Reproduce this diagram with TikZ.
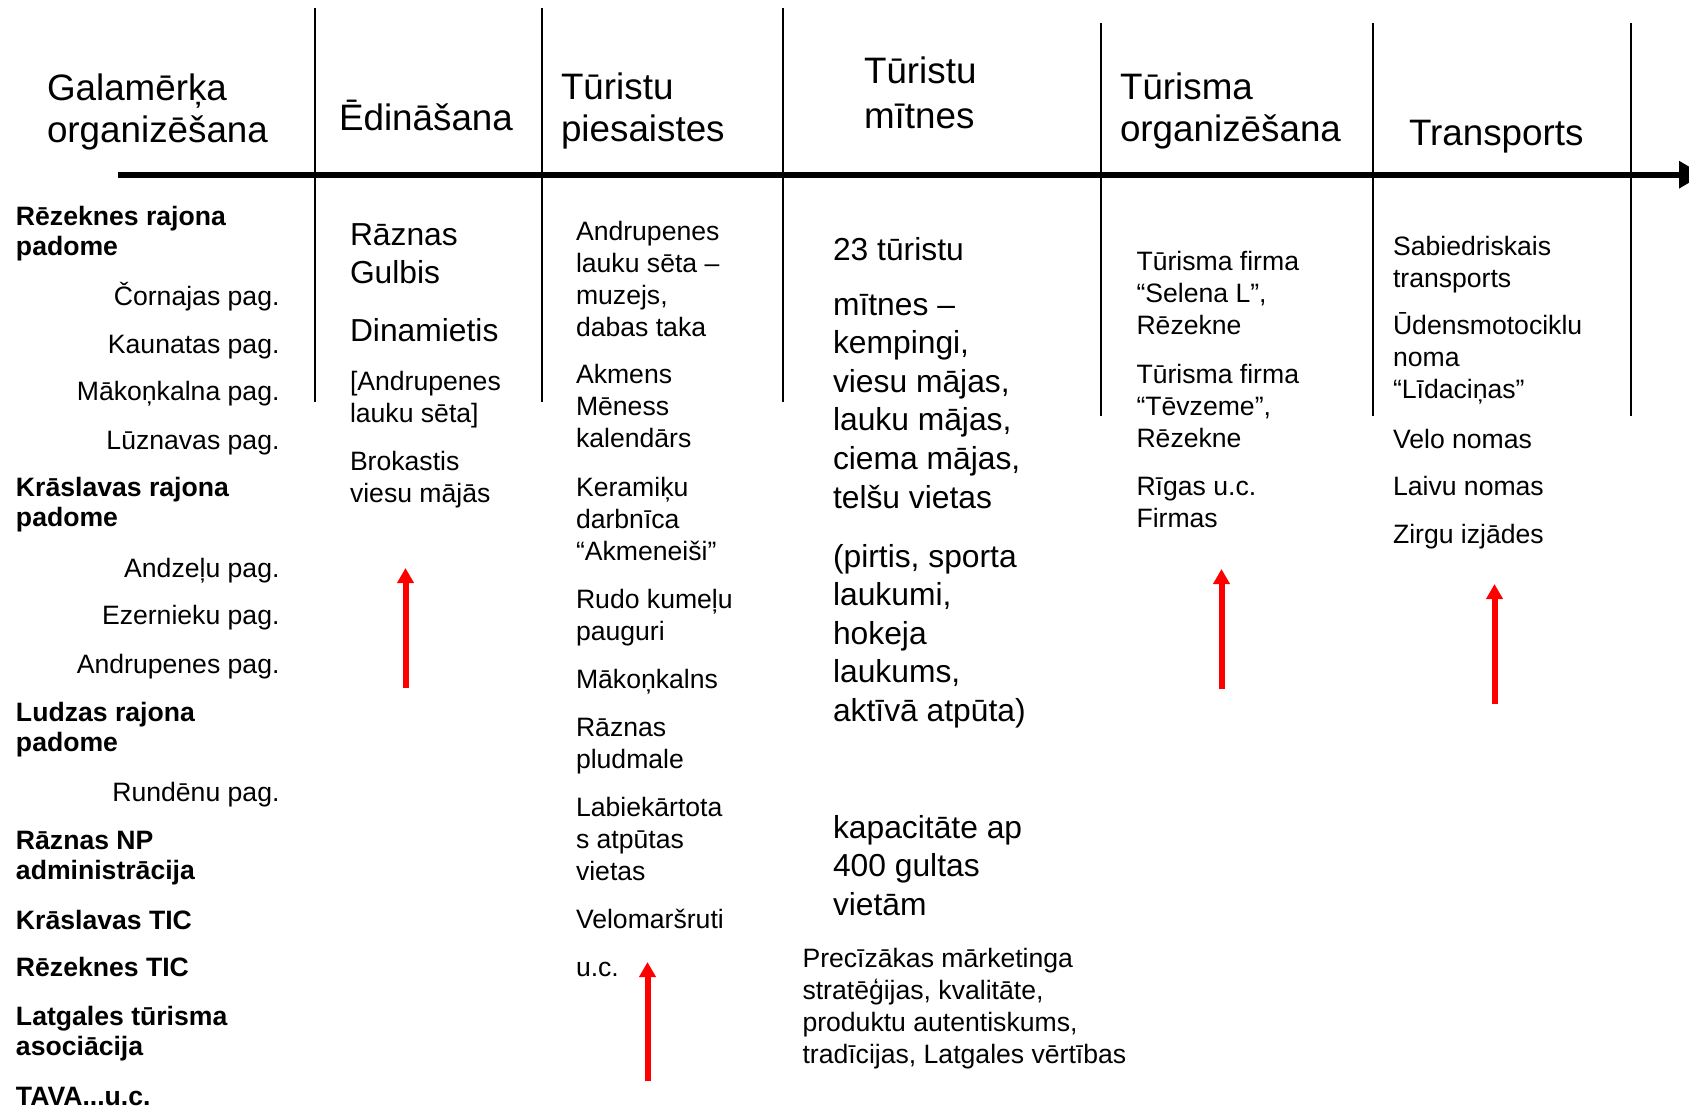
\documentclass[tikz,border=0pt]{standalone}
\usepackage{fontspec}
\setmainfont{Liberation Sans}
\usetikzlibrary{arrows.meta}
\newcommand{\mlines}[1]{\begin{tabular}[t]{@{}l@{}}#1\end{tabular}}
\newcommand{\fhead}{\fontsize{18.4pt}{21pt}\selectfont}
\newcommand{\fheadw}{\fontsize{18.4pt}{22.5pt}\selectfont}
\newcommand{\fbig}{\fontsize{15.9pt}{19.3pt}\selectfont}
\newcommand{\fbody}{\fontsize{13.3pt}{16pt}\selectfont}
\newcommand{\fleft}{\fontsize{13.3pt}{15.25pt}\selectfont}
\tikzset{
  txt/.style={inner sep=0pt, outer sep=0pt, anchor=base west},
  rtxt/.style={inner sep=0pt, outer sep=0pt, anchor=base east},
  head/.style={txt, font=\fhead},
  bigtxt/.style={txt, font=\fbig},
  bodytxt/.style={txt, font=\fbody},
  lefttxt/.style={txt, font=\fleft\bfseries},
  pagtxt/.style={rtxt, font=\fleft},
  sepline/.style={line width=1pt, black},
  axis/.style={line width=3pt, black, -{Triangle[length=12pt,width=13pt]}},
  redarrow/.style={line width=3pt, red, -{Triangle[length=7.5pt,width=8pt]}}
}
\begin{document}
\begin{tikzpicture}[x=0.5pt,y=-0.5pt]
\useasboundingbox (0,0) rectangle (1689,1108);

% axis
\coordinate (axs) at (118,174.7);
\coordinate (axe) at (1703,174.7);
\draw[axis] (axs) -- (axe);

% separators
\foreach \n/\x/\t/\b in {1/314.5/8/402, 2/542/8/402, 3/783/8/402, 4/1101/23/416, 5/1373/23/416, 6/1631/23/416}{
  \coordinate (vt\n) at (\x,\t);
  \coordinate (vb\n) at (\x,\b);
  \draw[sepline] (vt\n) -- (vb\n);
}

% headers
\node[head] (h1) at (47,100) {\mlines{Galamērķa\\organizēšana}};
\node[head] (h2) at (339,130) {Ēdināšana};
\node[head] (h3) at (561,99) {\mlines{Tūristu\\piesaistes}};
\node[txt, font=\fheadw] (h4) at (864,83) {\mlines{Tūristu\\mītnes}};
\node[head] (h5) at (1120,99) {\mlines{Tūrisma\\organizēšana}};
\node[head] (h6) at (1409,145.5) {Transports};

% left column
\node[lefttxt] (b1) at (16,225) {\mlines{Rēzeknes rajona\\padome}};
\node[pagtxt] (p1) at (279.5,305) {Čornajas pag.};
\node[pagtxt] (p2) at (279.5,353) {Kaunatas pag.};
\node[pagtxt] (p3) at (279.5,400) {Mākoņkalna pag.};
\node[pagtxt] (p4) at (279.5,449) {Lūznavas pag.};
\node[lefttxt] (b2) at (16,496) {\mlines{Krāslavas rajona\\padome}};
\node[pagtxt] (p5) at (279.5,577) {Andzeļu pag.};
\node[pagtxt] (p6) at (279.5,624) {Ezernieku pag.};
\node[pagtxt] (p7) at (279.5,673) {Andrupenes pag.};
\node[lefttxt] (b3) at (16,721) {\mlines{Ludzas rajona\\padome}};
\node[pagtxt] (p8) at (279.5,801) {Rundēnu pag.};
\node[lefttxt] (b4) at (16,849) {\mlines{Rāznas NP\\administrācija}};
\node[lefttxt] (b5) at (16,929) {Krāslavas TIC};
\node[lefttxt] (b6) at (16,976) {Rēzeknes TIC};
\node[lefttxt] (b7) at (16,1025) {\mlines{Latgales tūrisma\\asociācija}};
\node[lefttxt] (b8) at (16,1105) {TAVA...u.c.};

% Edinasana
\node[bigtxt] (e1) at (350,245) {\mlines{Rāznas\\Gulbis}};
\node[bigtxt] (e2) at (350,341) {Dinamietis};
\node[bodytxt] (e3) at (350,390) {\mlines{[Andrupenes\\lauku sēta]}};
\node[bodytxt] (e4) at (350,470) {\mlines{Brokastis\\viesu mājās}};
\coordinate (a1s) at (405.5,688);
\coordinate (a1e) at (405.5,568);
\draw[redarrow] (a1s) -- (a1e);

% Turistu piesaistes
\node[bodytxt] (t1) at (576,240) {\mlines{Andrupenes\\lauku sēta –\\muzejs,\\dabas taka}};
\node[bodytxt] (t2) at (576,383) {\mlines{Akmens\\Mēness\\kalendārs}};
\node[bodytxt] (t3) at (576,496) {\mlines{Keramiķu\\darbnīca\\“Akmeneiši”}};
\node[bodytxt] (t4) at (576,608) {\mlines{Rudo kumeļu\\pauguri}};
\node[bodytxt] (t5) at (576,688) {Mākoņkalns};
\node[bodytxt] (t6) at (576,736) {\mlines{Rāznas\\pludmale}};
\node[bodytxt] (t7) at (576,816) {\mlines{Labiekārtota\\s atpūtas\\vietas}};
\node[bodytxt] (t8) at (576,928) {Velomaršruti};
\node[bodytxt] (t9) at (576,976) {u.c.};
\coordinate (a2s) at (647.5,1081);
\coordinate (a2e) at (647.5,962);
\draw[redarrow] (a2s) -- (a2e);

% Turistu mitnes
\node[bigtxt] (m1) at (833,260) {23 tūristu};
\node[bigtxt] (m2) at (833,315) {\mlines{mītnes –\\kempingi,\\viesu mājas,\\lauku mājas,\\ciema mājas,\\telšu vietas}};
\node[bigtxt] (m3) at (833,567) {\mlines{(pirtis, sporta\\laukumi,\\hokeja\\laukums,\\aktīvā atpūta)}};
\node[bigtxt] (m4) at (833,838) {\mlines{kapacitāte ap\\400 gultas\\vietām}};
\node[bodytxt] (m5) at (802.5,967) {\mlines{Precīzākas mārketinga\\stratēģijas, kvalitāte,\\produktu autentiskums,\\tradīcijas, Latgales vērtības}};

% Turisma organizesana
\node[bodytxt] (o1) at (1136.5,270) {\mlines{Tūrisma firma\\“Selena L”,\\Rēzekne}};
\node[bodytxt] (o2) at (1136.5,383) {\mlines{Tūrisma firma\\“Tēvzeme”,\\Rēzekne}};
\node[bodytxt] (o3) at (1136.5,495) {\mlines{Rīgas u.c.\\Firmas}};
\coordinate (a3s) at (1221.5,689);
\coordinate (a3e) at (1221.5,569);
\draw[redarrow] (a3s) -- (a3e);

% Transports
\node[bodytxt] (r1) at (1393,255) {\mlines{Sabiedriskais\\transports}};
\node[bodytxt] (r2) at (1393,334) {\mlines{Ūdensmotociklu\\noma\\“Līdaciņas”}};
\node[bodytxt] (r3) at (1393,448) {Velo nomas};
\node[bodytxt] (r4) at (1393,495) {Laivu nomas};
\node[bodytxt] (r5) at (1393,543) {Zirgu izjādes};
\coordinate (a4s) at (1494.5,704);
\coordinate (a4e) at (1494.5,584);
\draw[redarrow] (a4s) -- (a4e);
\end{tikzpicture}
\end{document}
